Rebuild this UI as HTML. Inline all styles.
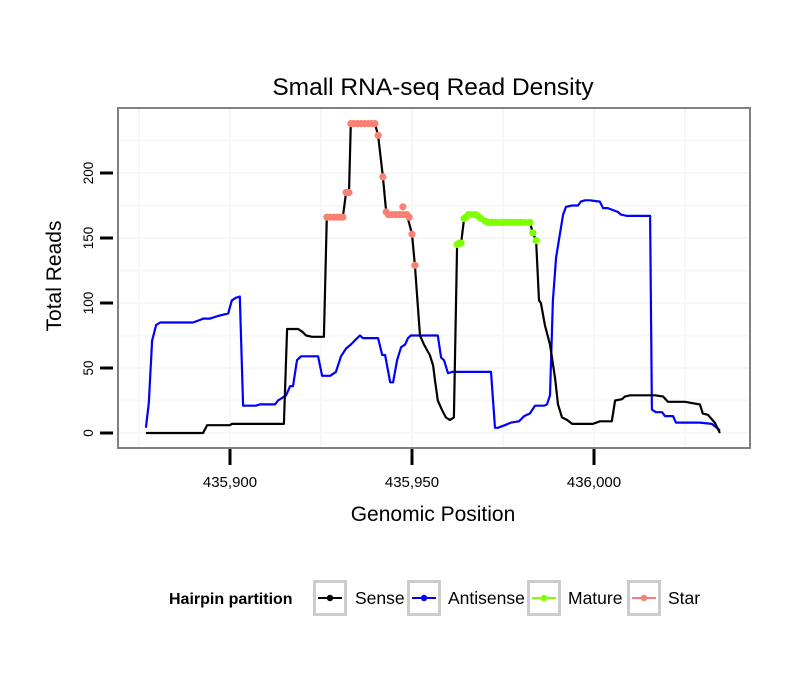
<!DOCTYPE html>
<html><head><meta charset="utf-8"><style>
html,body{margin:0;padding:0;background:#fff;}
svg{display:block;font-family:"Liberation Sans",sans-serif;}
</style></head><body>
<svg id="chart" width="810" height="690" viewBox="0 0 810 690">
<text x="433" y="95" text-anchor="middle" font-size="24.5" fill="#000">Small RNA-seq Read Density</text>
<rect x="118" y="108" width="632" height="340" fill="#fff"/>
<g id="grid"></g>
<g id="series"></g>
<rect x="118" y="108" width="632" height="340" fill="none" stroke="#808080" stroke-width="2"/>
<g id="axes"></g>
<text x="433" y="521" text-anchor="middle" font-size="21">Genomic Position</text>
<text transform="translate(61,276) rotate(-90)" text-anchor="middle" font-size="21">Total Reads</text>
<g>
<text x="169" y="604" font-size="16" font-weight="bold">Hairpin partition</text>
<g>
<rect x="314.5" y="581.5" width="31" height="33" fill="#fff" stroke="#ccc" stroke-width="3"/>
<line x1="318" y1="598" x2="342" y2="598" stroke="#000" stroke-width="2"/><circle cx="330" cy="598" r="3.2" fill="#000"/>
<text x="355" y="604" font-size="17.5">Sense</text></g>
<g>
<rect x="408.5" y="581.5" width="31" height="33" fill="#fff" stroke="#ccc" stroke-width="3"/>
<line x1="412" y1="598" x2="436" y2="598" stroke="#0000ff" stroke-width="2"/><circle cx="424" cy="598" r="3.2" fill="#0000ff"/>
<text x="448" y="604" font-size="17.5">Antisense</text></g>
<g>
<rect x="528.5" y="581.5" width="31" height="33" fill="#fff" stroke="#ccc" stroke-width="3"/>
<line x1="532" y1="598" x2="556" y2="598" stroke="#7fff00" stroke-width="2"/><circle cx="544" cy="598" r="3.2" fill="#7fff00"/>
<text x="568" y="604" font-size="17.5">Mature</text></g>
<g>
<rect x="628.5" y="581.5" width="31" height="33" fill="#fff" stroke="#ccc" stroke-width="3"/>
<line x1="632" y1="598" x2="656" y2="598" stroke="#fa8072" stroke-width="2"/><circle cx="644" cy="598" r="3.2" fill="#fa8072"/>
<text x="668" y="604" font-size="17.5">Star</text></g>
</g>
</svg>
<script>
const xTicks = [435900, 435950, 436000];
const xTickLabels = ["435,900", "435,950", "436,000"];
const yTicks = [0, 50, 100, 150, 200];
const yTickLabels = ["0", "50", "100", "150", "200"];
const xMinorGrid = [435875, 435925, 435975, 436025];
const yMinorGrid = [25, 75, 125, 175, 225];

const senseX = [-23.1,-7.4,-6.3,0,0.5,14.8,15.7,18.7,19.8,20.9,22.5,24.2,25.8,26.6,31.0,31.9,32.7,33.2,39.8,40.7,42.0,42.9,44,48.6,50,50.8,51.6,52.2,53.3,54.9,55.8,56.3,57.1,58.2,59.3,60.4,61.5,62.4,63.5,64.3,64.8,65.9,68.1,70.1,74.2,82.4,83.2,84.1,84.9,85.4,86.5,87.9,89.3,90.1,91.2,92.6,94.0,99.7,101.6,104.9,105.8,107.7,108.5,109.9,116.8,119,120.3,125,126.9,129.1,129.9,131.3,133.2,134.6].map(d=>435900+d);
const senseY = [0,0,6,6,7,7,80,80,78,75,74,74,74,166,166,185,185,238,238,229,197,170,168,168,153,129,98,75,68,60,52,41,25,18,12,10,12,145,146,165,166,169,167,163,162,162,154,148,102,100,83,68,42,22,12,10,7,7,9,9,25,26,28,29,29,28,24,24,23,22,15,14,8,0];

const antiX = [-23.1,-22.3,-21.4,-20.3,-19.2,-10.2,-8.2,-7.4,-5.5,-3.3,-0.5,0.5,1.6,2.7,3.6,7.1,8.2,12.4,13.2,14.3,15.4,16.5,17.3,18.4,19.5,21.2,24.2,25.3,27.5,29.1,30.5,31.9,33.2,34.6,35.7,36.5,40.7,41.8,42.6,44.0,44.8,45.9,47.0,48.1,48.9,49.7,51.1,57.1,58.0,58.8,59.9,61.0,71.7,72.8,73.6,75.5,77.2,79.4,80.8,82.4,83.8,86.3,87.1,87.9,88.7,89.6,90.7,91.5,92.3,94.0,95.6,96.4,97.5,98.9,101.6,102.5,103.8,106.6,107.4,109.1,115.4,115.9,117,118.7,119.5,121.7,122.5,129.1,132.4,134.6].map(d=>435900+d);
const antiY = [4,23,71,83,85,85,87,88,88,90,92,102,104,105,21,21,22,22,25,27,29,36,36,56,59,59,59,44,44,47,59,65,68,72,75,73,73,60,60,39,39,56,66,68,73,75,75,75,58,56,46,47,47,4,4,6,8,9,13,15,21,21,22,29,102,135,154,168,174,175,175,178,179,179,178,173,173,170,168,167,167,18,16,16,13,13,8,8,7,2];

const starX = [26.6,27.5,28.5,29.5,30.5,31.0,31.9,32.7,33.2,34,35,36,37,38,39,39.8,40.7,42.0,42.9,43.5,44.5,45.5,46.5,47.5,47.5,48.6,49.2,50,50.8].map(d=>435900+d);
const starY = [166,166,166,166,166,166,185,185,238,238,238,238,238,238,238,238,229,197,170,168,168,168,168,168,174,168,166,153,129];

const matureX = [62.4,63,63.5,64.3,64.8,65.5,66.5,67.5,68.1,69,70.1,71,72,73,74.2,75,76,77,78,79,80,81,82.4,83.2,84.1].map(d=>435900+d);
const matureY = [145,146,146,165,166,168,168,168,167,165,163,162,162,162,162,162,162,162,162,162,162,162,162,154,148];

const NS="http://www.w3.org/2000/svg";
const X0=435900, PX0=230, PXU=3.64, Y0=433, PYU=1.3;
function xs(v){return PX0+(v-X0)*PXU;}
function ys(v){return Y0-v*PYU;}
function mk(tag,attrs,parent){const e=document.createElementNS(NS,tag);for(const k in attrs)e.setAttribute(k,attrs[k]);parent.appendChild(e);return e;}

const grid=document.getElementById('grid');
const gstyle={stroke:"#f7f7f7","stroke-width":2};
xMinorGrid.concat(xTicks).forEach(v=>{const l=mk('line',Object.assign({x1:xs(v),x2:xs(v),y1:109,y2:447},gstyle),grid);

});
yMinorGrid.concat(yTicks).forEach(v=>{const y=ys(v);if(y<109)return;const l=mk('line',Object.assign({x1:119,x2:749,y1:y,y2:y},gstyle),grid);

});

const ser=document.getElementById('series');
function line(X,Y,color,name){const d=X.map((x,i)=>(i?'L':'M')+xs(x).toFixed(1)+','+ys(Y[i]).toFixed(1)).join('');
const p=mk('path',{d:d,fill:'none',stroke:color,'stroke-width':2.2,'stroke-linejoin':'round'},ser);

}
function pts(X,Y,color,name){const g=mk('g',{fill:color},ser);


X.forEach((x,i)=>{const c=mk('circle',{cx:xs(x),cy:ys(Y[i]),r:3.6},g);

});}
line(antiX,antiY,'#0000ff','antisense-line');
line(senseX,senseY,'#000000','sense-line');
pts(starX,starY,'#fa8072','star-points');
pts(matureX,matureY,'#7fff00','mature-points');

const ax=document.getElementById('axes');
yTicks.forEach((v,i)=>{const y=ys(v);
const t=mk('line',{x1:100,x2:113,y1:y,y2:y,stroke:'#000','stroke-width':3},ax);


const tx=mk('text',{transform:`translate(93,${y}) rotate(-90)`,'text-anchor':'middle','font-size':13.5},ax);
tx.textContent=yTickLabels[i];

});
xTicks.forEach((v,i)=>{const x=xs(v);
const t=mk('line',{x1:x,x2:x,y1:449,y2:465,stroke:'#000','stroke-width':3},ax);


const tx=mk('text',{x:x,y:487,'text-anchor':'middle','font-size':15},ax);
tx.textContent=xTickLabels[i];

});
</script>
</body></html>
